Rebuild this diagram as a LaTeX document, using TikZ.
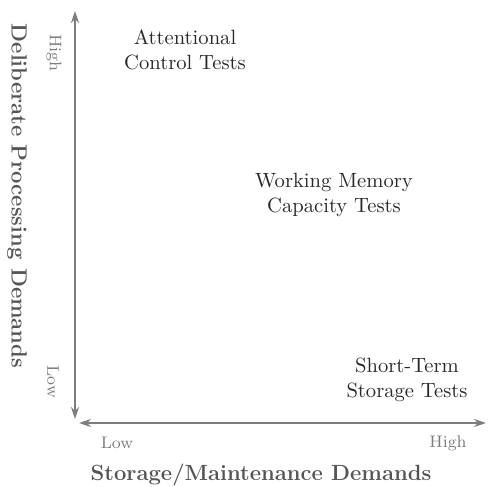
\documentclass[tikz,border=0pt]{standalone}
\usepackage{tikz}
\usetikzlibrary{arrows.meta}
\definecolor{axisgray}{RGB}{125,125,125}
\definecolor{titlegray}{RGB}{85,85,85}
\definecolor{textgray}{RGB}{40,40,40}

\begin{document}
\begin{tikzpicture}[x=0.5pt,y=-0.5pt]
			\tikzset{line/.style={draw,axisgray,line width=1pt}}
			\tikzset{axis/.style={line,{Stealth[length=6pt,width=4pt]}-{Stealth[length=6pt,width=4pt]}}}
			\tikzset{tick/.style={text=axisgray,font=\fontsize{8.4}{10}\selectfont,inner sep=0pt}}
			\tikzset{heading/.style={text=titlegray,font=\fontsize{11}{13}\selectfont\bfseries,inner sep=0pt}}
			\tikzset{test/.style={text=textgray,align=center,font=\fontsize{10.3}{12.5}\selectfont,inner sep=0pt}}

			\useasboundingbox (0,0) rectangle (488,487);

			% axes
			\coordinate (ytop) at (75,11);
			\coordinate (ybot) at (75,419);
			\coordinate (xleft) at (79,423);
			\coordinate (xright) at (486,423);

			\path[axis] (ybot) -- (ytop);
			\path[axis] (xleft) -- (xright);

			% axis labels
			\node[heading,rotate=-90] (ylabel) at (17,196) {Deliberate Processing Demands};
			\node[heading] (xlabel) at (261,475) {Storage/Maintenance Demands};

			\node[tick,rotate=-90] (yhigh) at (54,53) {High};
			\node[tick,rotate=-90] (ylow) at (53,382) {Low};
			\node[tick] (xlow) at (117,443) {Low};
			\node[tick] (xhigh) at (448,443) {High};

			% tests
			\node[test] (attn) at (185,50) {Attentional\\Control Tests};
			\node[test] (wmc) at (334,195) {Working Memory\\Capacity Tests};
			\node[test] (sts) at (407,380) {Short-Term\\Storage Tests};
\end{tikzpicture}
\end{document}
